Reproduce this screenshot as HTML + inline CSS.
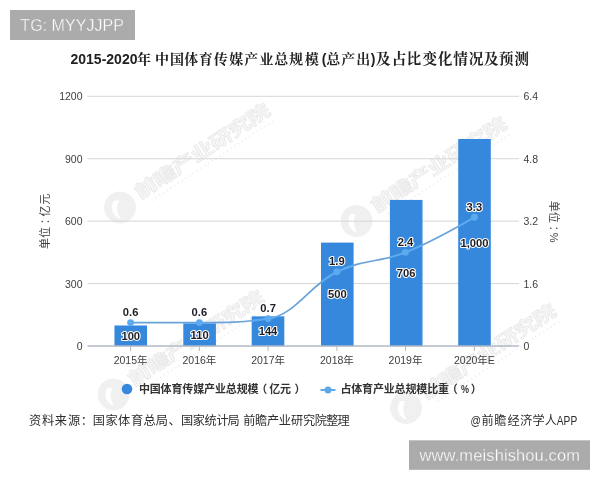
<!DOCTYPE html>
<html lang="zh-CN">
<head>
<meta charset="utf-8">
<title>2015-2020年中国体育传媒产业总规模(总产出)及占比变化情况及预测</title>
<style>
html,body{margin:0;padding:0;background:#fff;}
body{width:600px;height:480px;overflow:hidden;}
svg{display:block;will-change:transform;filter:blur(0.35px);}
text{font-family:"Liberation Sans","Noto Sans CJK SC",sans-serif;}
.ax{font-size:10.5px;fill:#3e3e3e;}
.dl{font-size:10.3px;font-weight:bold;fill:#1c1c24;stroke:#fff;stroke-width:2px;paint-order:stroke fill;stroke-linejoin:round;text-anchor:middle;}
.lg{font-size:11px;font-weight:bold;fill:#333;}
.src{font-size:12.2px;fill:#2e2e2e;}
.ttl{font-weight:bold;fill:#222;}
.tc{font-family:"Liberation Sans","Noto Serif CJK SC",serif;font-weight:700;}
.wm{font-family:"Liberation Sans","Noto Sans CJK SC",sans-serif;font-weight:bold;}
</style>
</head>
<body>
<svg width="600" height="480" viewBox="0 0 600 480">
<rect x="0" y="0" width="600" height="480" fill="#ffffff"/>

<g transform="translate(120,207.5) rotate(-33.2)">
<path d="M0 -16 A16 16 0 1 0 0.01 -16 Z M-1 -9 C-9 -6 -11 4 -6 10 C-5 2 -3 -3 3 -6 Z" fill="#000" fill-opacity="0.06" fill-rule="evenodd"/>
<text class="wm" transform="translate(21,4.5) scale(1.25,1)" font-size="18.5" textLength="126" lengthAdjust="spacing" fill="#000" fill-opacity="0.03" stroke="#000" stroke-opacity="0.08" stroke-width="0.8">前瞻产业研究院</text>
<line x1="30" x2="176" y1="11.5" y2="11.5" stroke="#000" stroke-opacity="0.055" stroke-width="2" stroke-dasharray="1.5 3"/>
</g>
<g transform="translate(356.5,221) rotate(-33.2)">
<path d="M0 -16 A16 16 0 1 0 0.01 -16 Z M-1 -9 C-9 -6 -11 4 -6 10 C-5 2 -3 -3 3 -6 Z" fill="#000" fill-opacity="0.06" fill-rule="evenodd"/>
<text class="wm" transform="translate(21,4.5) scale(1.25,1)" font-size="18.5" textLength="126" lengthAdjust="spacing" fill="#000" fill-opacity="0.03" stroke="#000" stroke-opacity="0.08" stroke-width="0.8">前瞻产业研究院</text>
<line x1="30" x2="176" y1="11.5" y2="11.5" stroke="#000" stroke-opacity="0.055" stroke-width="2" stroke-dasharray="1.5 3"/>
</g>
<g transform="translate(113.5,394.5) rotate(-33.2)">
<path d="M0 -16 A16 16 0 1 0 0.01 -16 Z M-1 -9 C-9 -6 -11 4 -6 10 C-5 2 -3 -3 3 -6 Z" fill="#000" fill-opacity="0.06" fill-rule="evenodd"/>
<text class="wm" transform="translate(21,4.5) scale(1.25,1)" font-size="18.5" textLength="126" lengthAdjust="spacing" fill="#000" fill-opacity="0.03" stroke="#000" stroke-opacity="0.08" stroke-width="0.8">前瞻产业研究院</text>
<line x1="30" x2="176" y1="11.5" y2="11.5" stroke="#000" stroke-opacity="0.055" stroke-width="2" stroke-dasharray="1.5 3"/>
</g>
<g transform="translate(406,408) rotate(-33.2)">
<path d="M0 -16 A16 16 0 1 0 0.01 -16 Z M-1 -9 C-9 -6 -11 4 -6 10 C-5 2 -3 -3 3 -6 Z" fill="#000" fill-opacity="0.06" fill-rule="evenodd"/>
<text class="wm" transform="translate(21,4.5) scale(1.25,1)" font-size="18.5" textLength="126" lengthAdjust="spacing" fill="#000" fill-opacity="0.03" stroke="#000" stroke-opacity="0.08" stroke-width="0.8">前瞻产业研究院</text>
<line x1="30" x2="176" y1="11.5" y2="11.5" stroke="#000" stroke-opacity="0.055" stroke-width="2" stroke-dasharray="1.5 3"/>
</g>
<line x1="87.5" x2="519" y1="96.30" y2="96.30" stroke="#d6d6d6" stroke-width="1"/>
<line x1="87.5" x2="519" y1="158.72" y2="158.72" stroke="#d6d6d6" stroke-width="1"/>
<line x1="87.5" x2="519" y1="221.15" y2="221.15" stroke="#d6d6d6" stroke-width="1"/>
<line x1="87.5" x2="519" y1="283.57" y2="283.57" stroke="#d6d6d6" stroke-width="1"/>
<text class="ax" x="82.5" y="100.40" text-anchor="end">1200</text>
<text class="ax" x="82.5" y="162.82" text-anchor="end">900</text>
<text class="ax" x="82.5" y="225.25" text-anchor="end">600</text>
<text class="ax" x="82.5" y="287.68" text-anchor="end">300</text>
<text class="ax" x="82.5" y="350.10" text-anchor="end">0</text>
<text class="ax" x="523.5" y="100.40">6.4</text>
<text class="ax" x="523.5" y="162.82">4.8</text>
<text class="ax" x="523.5" y="225.25">3.2</text>
<text class="ax" x="523.5" y="287.68">1.6</text>
<text class="ax" x="523.5" y="350.10">0</text>
<text class="ax" transform="translate(48.8,0) rotate(-90)" text-anchor="middle" style="font-size:11px" x="-243.5 -232.6 -218.8 -210.9 -199.3">单位：亿元</text>
<text class="ax" transform="translate(550.1,0) rotate(90)" text-anchor="middle" style="font-size:11px" x="206.2 217.3 230.9 237.6">单位：%</text>
<rect x="114.45" y="325.48" width="32.60" height="20.72" fill="#3588dc"/>
<rect x="183.30" y="323.41" width="32.60" height="22.79" fill="#3588dc"/>
<rect x="251.70" y="316.36" width="32.60" height="29.84" fill="#3588dc"/>
<rect x="321.00" y="242.60" width="32.60" height="103.60" fill="#3588dc"/>
<rect x="389.90" y="199.92" width="32.60" height="146.28" fill="#3588dc"/>
<rect x="458.20" y="139.00" width="32.60" height="207.20" fill="#3588dc"/>
<line x1="87.5" x2="519" y1="346.00" y2="346.00" stroke="#b3b8c6" stroke-width="1.3"/>
<line x1="130.60" x2="130.60" y1="346.00" y2="351.00" stroke="#b3b8c6" stroke-width="1"/>
<line x1="199.40" x2="199.40" y1="346.00" y2="351.00" stroke="#b3b8c6" stroke-width="1"/>
<line x1="268.10" x2="268.10" y1="346.00" y2="351.00" stroke="#b3b8c6" stroke-width="1"/>
<line x1="336.90" x2="336.90" y1="346.00" y2="351.00" stroke="#b3b8c6" stroke-width="1"/>
<line x1="405.50" x2="405.50" y1="346.00" y2="351.00" stroke="#b3b8c6" stroke-width="1"/>
<line x1="474.40" x2="474.40" y1="346.00" y2="351.00" stroke="#b3b8c6" stroke-width="1"/>
<text class="ax" x="130.60" y="363.50" text-anchor="middle">2015年</text>
<text class="ax" x="199.40" y="363.50" text-anchor="middle">2016年</text>
<text class="ax" x="268.10" y="363.50" text-anchor="middle">2017年</text>
<text class="ax" x="336.90" y="363.50" text-anchor="middle">2018年</text>
<text class="ax" x="405.50" y="363.50" text-anchor="middle">2019年</text>
<text class="ax" x="474.40" y="363.50" text-anchor="middle">2020年E</text>
<clipPath id="barclip">
<rect x="114.45" y="325.48" width="32.60" height="20.72"/>
<rect x="183.30" y="323.41" width="32.60" height="22.79"/>
<rect x="251.70" y="316.36" width="32.60" height="29.84"/>
<rect x="321.00" y="242.60" width="32.60" height="103.60"/>
<rect x="389.90" y="199.92" width="32.60" height="146.28"/>
<rect x="458.20" y="139.00" width="32.60" height="207.20"/>
</clipPath>
<path d="M130.60 322.59 C130.60 322.59 171.88 322.59 199.40 322.59 C226.88 322.59 240.62 322.59 268.10 318.69 C295.62 314.79 309.38 285.15 336.90 271.87 C364.34 258.62 378.06 263.26 405.50 252.36 C433.06 241.41 474.40 217.25 474.40 217.25" fill="none" stroke="#6aa3da" stroke-width="1.7" stroke-linecap="round" stroke-linejoin="round"/>
<path d="M130.60 322.59 C130.60 322.59 171.88 322.59 199.40 322.59 C226.88 322.59 240.62 322.59 268.10 318.69 C295.62 314.79 309.38 285.15 336.90 271.87 C364.34 258.62 378.06 263.26 405.50 252.36 C433.06 241.41 474.40 217.25 474.40 217.25" fill="none" stroke="#5cabf0" stroke-width="1.8" stroke-linecap="round" stroke-linejoin="round" clip-path="url(#barclip)"/>
<circle cx="130.60" cy="322.59" r="3.45" fill="#5cabf0"/>
<circle cx="199.40" cy="322.59" r="3.45" fill="#5cabf0"/>
<circle cx="268.10" cy="318.69" r="3.45" fill="#5cabf0"/>
<circle cx="336.90" cy="271.87" r="3.45" fill="#5cabf0"/>
<circle cx="405.50" cy="252.36" r="3.45" fill="#5cabf0"/>
<circle cx="474.40" cy="217.25" r="3.45" fill="#5cabf0"/>
<text class="dl" transform="translate(130.75,339.74) scale(1.09,1)">100</text>
<text class="dl" transform="translate(199.60,338.70) scale(1.09,1)">110</text>
<text class="dl" transform="translate(268.00,335.18) scale(1.09,1)">144</text>
<text class="dl" transform="translate(337.30,298.30) scale(1.09,1)">500</text>
<text class="dl" transform="translate(406.20,276.96) scale(1.09,1)">706</text>
<text class="dl" transform="translate(474.50,246.50) scale(1.09,1)">1,000</text>
<text class="dl" transform="translate(130.60,316.19) scale(1.09,1)">0.6</text>
<text class="dl" transform="translate(199.40,316.19) scale(1.09,1)">0.6</text>
<text class="dl" transform="translate(268.10,312.29) scale(1.09,1)">0.7</text>
<text class="dl" transform="translate(336.90,265.47) scale(1.09,1)">1.9</text>
<text class="dl" transform="translate(405.50,245.96) scale(1.09,1)">2.4</text>
<text class="dl" transform="translate(474.40,210.85) scale(1.09,1)">3.3</text>
<circle cx="127" cy="389" r="5.3" fill="#3588dc"/>
<text class="lg" x="138.9" y="393.1" textLength="119.6" lengthAdjust="spacing">中国体育传媒产业总规模</text>
<text class="lg" y="393.1" x="256.2 269.3 280 294.5">（亿元）</text>
<line x1="320.5" x2="335.5" y1="390" y2="390" stroke="#5ea8e6" stroke-width="2"/>
<circle cx="328" cy="390" r="3.5" fill="#5ea8e6"/>
<text class="lg" x="340.4" y="393.1" textLength="108.6" lengthAdjust="spacing">占体育产业总规模比重</text>
<text class="lg" y="393.1" x="446.7">（</text>
<text class="lg" transform="translate(460.9,393.1) scale(0.8,1)" style="font-size:11.3px">%</text>
<text class="lg" y="393.1" x="470.8">）</text>
<text class="src" y="425.4" text-anchor="middle" x="35.2 48.0 60.8 74.0 86.9 98.8 111.5 124.2 137.1 149.7 161.9 174.6 187.0 198.8 210.7 222.5 233.6 241.5 249.3 261.2 273.1 284.8 297.2 309.2 320.8 332.4 343.7">资料来源：国家体育总局、国家统计局 前瞻产业研究院整理</text>
<text class="src" y="425.4" x="470.5" textLength="10.4" lengthAdjust="spacingAndGlyphs">@</text>
<text class="src" y="425.4" text-anchor="middle" x="487.6 500.3 513.5 526.1 538.6 550.8">前瞻经济学人</text>
<text class="src" y="425.4" x="556.8" textLength="20.4" lengthAdjust="spacingAndGlyphs">APP</text>
<text class="ttl" x="70.5" y="64.2" font-size="14">2015-2020</text>
<text class="ttl tc" y="64.1" text-anchor="middle" font-size="14" x="144.1 162.1 176.9 191.2 205.8 220.8 236.3 251.3 266.5 281.3 296.1 311.7 324.2 333.3 348.2 363.3 373.0">年中国体育传媒产业总规模(总产出)</text>
<text class="ttl tc" y="63.6" text-anchor="middle" font-size="14.7" x="383.2 399.2 413.8 429.8 445.1 460.7 476.2 491.2 506.2 521.5">及占比变化情况及预测</text>
<rect x="10" y="10" width="125" height="30" fill="#ababab"/>
<text x="20.3" y="30.6" font-size="16" fill="#fff" stroke="#ababab" stroke-width="0.35" textLength="103.6" lengthAdjust="spacing">TG: MYYJJPP</text>
<rect x="409" y="440.3" width="181" height="29.5" fill="#ababab"/>
<text x="419.5" y="460.8" font-size="16.5" fill="#fff" stroke="#ababab" stroke-width="0.3" textLength="160.5" lengthAdjust="spacing">www.meishishou.com</text>
</svg>
</body>
</html>
